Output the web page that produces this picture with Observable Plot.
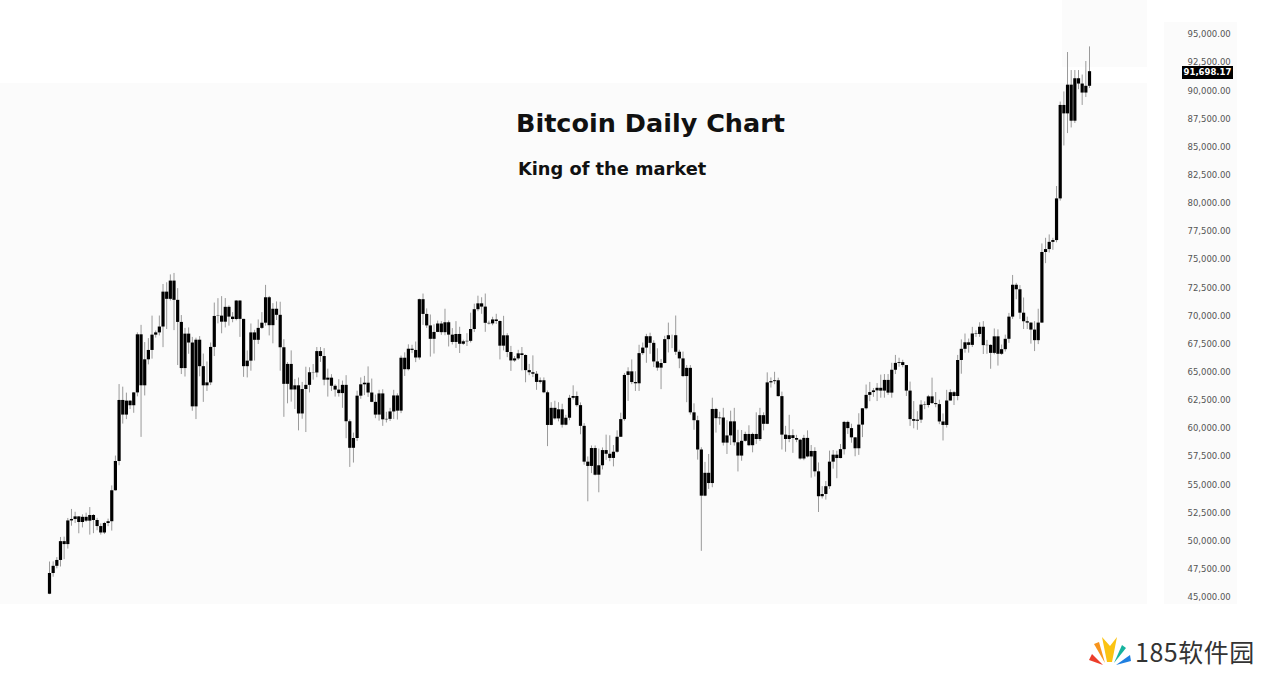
<!DOCTYPE html>
<html>
<head>
<meta charset="utf-8">
<script src="https://cdn.jsdelivr.net/npm/d3@7"></script>
<script src="https://cdn.jsdelivr.net/npm/@observablehq/plot@0.6"></script>
<style>
html, body { margin: 0; padding: 0; background: #fff; overflow: hidden; width: 1271px; height: 677px; }
#wrap { position: relative; width: 1271px; height: 677px; }
.bg { position: absolute; background: #fbfbfb; z-index: 0; }
#chart { position: absolute; left: 0; top: 0; z-index: 1; }
.title { position: absolute; z-index: 2; font-family: "DejaVu Sans", sans-serif; font-weight: bold; color: #111; white-space: nowrap; line-height: 1; }
#tag { position: absolute; z-index: 3; background: #000; color: #fff; font-family: "DejaVu Sans", sans-serif; font-size: 8.5px; font-weight: bold; text-align: center; }
#logo { position: absolute; left: 1089px; top: 635px; z-index: 2; display: flex; align-items: center; }
#logo span { font-family: "Noto Sans CJK SC", sans-serif; font-size: 25px; color: #333; margin-left: 4px; line-height: 1; letter-spacing: 0.5px; }
</style>
</head>
<body>
<div id="wrap">
  <div class="bg" style="left:0;top:83px;width:1147px;height:521px"></div>
  <div class="bg" style="left:1062px;top:0;width:85px;height:67px"></div>
  <div class="bg" style="left:1164px;top:22px;width:73px;height:582px"></div>
  <div id="chart"></div>
  <div class="title" id="t1" style="left:516px;top:111px;font-size:25.5px">Bitcoin Daily Chart</div>
  <div class="title" id="t2" style="left:518px;top:160px;font-size:17.8px">King of the market</div>
  <div id="logo">
    <svg width="42" height="32" viewBox="0 0 42 32">
      <polygon points="14,30 0,25 3,19" fill="#ec3d2a"/>
      <polygon points="16,28 5,9 10,7" fill="#f7941d"/>
      <polygon points="18,27 13,2 21,11 28,2 23,27" fill="#fbc312"/>
      <polygon points="25,28 33,10 37,13" fill="#16b39e"/>
      <polygon points="27,30 41,20 42,26" fill="#1f7fe0"/>
    </svg>
    <span>185软件园</span>
  </div>
</div>
<script>
const startDate = "2024-02-09";

const opens = [
  45290, 47130, 47770, 48290, 49960, 49700, 51800, 51930, 52160, 51660, 52120, 51780, 52280, 51840, 51300, 50730, 51570, 51730, 54480, 57080, 62500,
  61200, 62440, 62030, 63170, 68330, 63800, 66110, 66940, 68300, 68500, 69020, 72120, 71480, 73100, 71390, 69430, 65330, 68390, 67600, 61930, 67850, 65500, 63800, 64060, 67210, 69960, 69990, 69450, 70770, 69900, 69690,
  71330, 69700, 65500, 65990, 68500, 67840, 68900, 69360, 71620, 69140, 70600, 70060, 67180, 63930, 65700, 63430, 63800, 61300, 63470, 63840, 64960, 64940, 66840, 66400, 64300, 64480, 63760, 63420, 63110, 63840,
  60610, 58250, 59120, 62880, 63890, 64030, 63160, 62330, 61200, 63080, 60780, 60820, 61480, 62900, 61550, 66250, 65230, 67050, 66940, 66270, 71450, 70140, 69120, 67930, 68540, 69290, 68520, 69400, 68300, 67650, 68360,
  67490, 67710, 67750, 68800, 70560, 71080, 70790, 69350, 69300, 69650, 69510, 67320, 68240, 66760, 66010, 66190, 66640, 66490, 65150, 64960, 64830, 64100, 64250, 63180, 60280, 61800, 60860, 61670, 60300, 60920,
  62690, 62850, 62040, 60200, 57020, 56640, 58230, 55860, 56700, 58050, 57720, 57350, 57900, 59230, 60800, 64720, 65040, 64090, 63980, 66660, 67150, 68160, 67570, 65920, 65370, 65780, 67900, 68250, 68250, 66780, 66190,
  64620, 65350, 61400, 60700, 58100, 54000, 56030, 55120, 61700, 60880, 60940, 58710, 59350, 60600, 58740, 57560, 58870, 59480, 58480, 59480, 59030, 61150, 60380, 64060, 64170, 64250, 62840, 59420, 59030, 59370, 59120,
  58970, 57300, 59130, 57480, 57970, 56160, 53950, 54150, 54840, 57020, 57640, 57340, 58130, 60550, 60000, 59180, 58210, 60310, 61760, 62950, 63200, 63350, 63580, 63330, 64280, 63150, 65180, 65790, 65860, 65600,
  63330, 60800, 60650, 60750, 62090, 62050, 62820, 62220, 62130, 60590, 60280, 62450, 63190, 62850, 66050, 67040, 67620, 67390, 68400, 68360, 69000, 67370, 67390, 66680, 68150, 66600, 67010, 67930, 69900, 72730, 72330,
  70250, 69490, 69370, 68750, 67810, 69370, 75640, 75900, 76540, 76700, 80400, 88700, 87950, 90500, 87300, 91070, 90600, 89800, 90400
];

const highs = [
  48150, 48170, 48540, 50330, 50360, 52020, 52820, 52570, 52180, 52340, 52490, 52990, 52370, 52030, 51540, 51680, 51960, 54910, 57560, 63910, 63680,
  63150, 62470, 63200, 68500, 69170, 67640, 67990, 69990, 68670, 70000, 72800, 72950, 73650, 73780, 72430, 70040, 68900, 68940, 68100, 68030, 68170, 66620, 65920, 67600, 71150, 71540, 71720, 71550, 70900, 70300, 71370,
  71350, 69700, 66900, 69290, 68730, 69650, 70300, 72720, 71740, 71100, 71250, 71220, 67900, 65860, 66900, 64370, 64490, 64100, 65450, 65400, 65690, 67200, 67200, 67100, 65280, 64790, 63900, 64350, 64220, 64700,
  60780, 59600, 63320, 64500, 64640, 65480, 64400, 62980, 63400, 63450, 61450, 61800, 63400, 63090, 66440, 66730, 67440, 67400, 67690, 71500, 71950, 70630, 70090, 69220, 69550, 69500, 70600, 69560, 68880, 69500, 69000,
  67850, 68430, 70250, 71050, 71760, 71620, 71950, 69550, 69890, 70150, 69560, 69970, 68430, 67300, 66400, 66950, 67200, 66550, 65700, 66460, 65070, 64500, 64500, 63340, 62300, 62430, 62300, 62160, 61180, 62950,
  63800, 63250, 62280, 60440, 57480, 58460, 58460, 58180, 58280, 59420, 59360, 58500, 59800, 61370, 64900, 65400, 66100, 65050, 67400, 67600, 68370, 68470, 67800, 67090, 66140, 68200, 69370, 68300, 70000, 66960, 66800,
  65600, 65600, 62200, 61100, 58300, 57000, 57700, 62700, 61800, 61450, 61800, 60700, 61550, 61800, 59850, 59830, 59680, 60250, 59600, 61400, 61800, 61400, 64950, 64500, 65000, 64480, 63240, 60200, 61180, 59900, 59400,
  59050, 59400, 59800, 58500, 58300, 56950, 54850, 55300, 58000, 58050, 57990, 58590, 60640, 60660, 60390, 59200, 61320, 61780, 63870, 64100, 63560, 64000, 64750, 64800, 64800, 65800, 66500, 66250, 66070, 65600,
  64130, 62400, 61500, 62480, 62370, 62950, 64480, 63200, 62520, 61300, 63400, 63450, 63290, 66500, 67880, 68400, 67950, 68990, 68690, 69400, 69500, 67830, 67450, 68850, 68770, 67420, 68300, 70230, 73600, 72900, 72700,
  71600, 69900, 69400, 69500, 70600, 76400, 76900, 77200, 76900, 81500, 89000, 89900, 93400, 91800, 91800, 91800, 91400, 92600, 93900
];

const lows = [
  45250, 46800, 47550, 47710, 48360, 49300, 51330, 51570, 50660, 51180, 51680, 50540, 50670, 50930, 50540, 50590, 51290, 50900, 54450, 56700, 60400,
  60800, 61700, 61360, 62820, 59220, 62900, 65660, 66170, 68040, 68230, 67190, 68800, 71330, 68700, 65600, 64800, 64580, 66600, 61540, 60800, 64600, 62330, 63300, 63820, 66400, 69300, 68420, 68940, 69100, 69400, 69570,
  68100, 64550, 64500, 65100, 66000, 67470, 68800, 69100, 68230, 67530, 69600, 65100, 61000, 62200, 62350, 61700, 59800, 60830, 59650, 63170, 64300, 64520, 65880, 63800, 62800, 63300, 62800, 62800, 61800, 59100,
  56550, 56940, 58850, 62600, 62930, 62770, 62300, 60880, 60660, 60200, 60500, 60630, 60800, 60760, 61330, 64630, 65120, 66660, 65860, 66080, 69160, 68900, 66350, 66620, 68520, 68280, 68250, 67250, 67430, 67120, 66670,
  67390, 67290, 67600, 68530, 70380, 70150, 68550, 69200, 69130, 69250, 66100, 66900, 66300, 65080, 65880, 66050, 65120, 64070, 64700, 64530, 63400, 63950, 63100, 58400, 60250, 60760, 60600, 60050, 60250, 60700,
  62530, 61900, 59450, 56750, 53500, 56000, 55800, 54300, 56330, 57180, 57060, 56600, 57810, 59210, 60650, 62410, 63900, 63300, 63300, 66500, 65800, 66600, 65420, 65100, 63460, 65760, 66720, 67100, 66500, 65320, 64530,
  62300, 61200, 59850, 57200, 49100, 53950, 54600, 54750, 59600, 60300, 58450, 57700, 58500, 58450, 56150, 57100, 58800, 58400, 57850, 58600, 58850, 59800, 60350, 63600, 63900, 62800, 58100, 57900, 58750, 57800, 58750,
  57200, 57150, 57400, 55600, 55700, 52550, 53750, 53650, 54600, 56400, 55550, 57320, 57650, 59480, 58700, 57500, 57620, 59200, 61650, 62390, 62780, 62400, 62700, 62700, 62950, 62700, 64800, 65450, 65400, 62850,
  60200, 59980, 59850, 60460, 61680, 61830, 62150, 61850, 60350, 58900, 60050, 62450, 62050, 62470, 64830, 66700, 66700, 67200, 68100, 68100, 66580, 66600, 65270, 66550, 65550, 66500, 66800, 67570, 69700, 71450, 69700,
  68800, 68800, 67500, 66840, 67460, 69350, 74650, 75600, 75830, 76500, 80200, 85100, 86200, 86700, 87100, 90100, 88700, 89400, 90200
];

const closes = [
  47130, 47770, 48290, 49960, 49700, 51800, 51930, 52160, 51660, 52120, 51780, 52280, 51840, 51300, 50730, 51570, 51730, 54480, 57080, 62500, 61200,
  62440, 62030, 63170, 68330, 63800, 66110, 66940, 68300, 68500, 69020, 72120, 71480, 73100, 71390, 69430, 65330, 68390, 67600, 61930, 67850, 65500, 63800, 64060, 67210, 69960, 69990, 69450, 70770, 69900, 69690, 71330,
  69700, 65500, 65990, 68500, 67840, 68900, 69360, 71620, 69140, 70600, 70060, 67180, 63930, 65700, 63430, 63800, 61300, 63470, 63840, 64960, 64940, 66840, 66400, 64300, 64480, 63760, 63420, 63110, 63840, 60610,
  58250, 59120, 62880, 63890, 64030, 63160, 62330, 61200, 63080, 60780, 60820, 61480, 62900, 61550, 66250, 65230, 67050, 66940, 66270, 71450, 70140, 69120, 67930, 68540, 69290, 68520, 69400, 68300, 67650, 68360, 67490,
  67710, 67750, 68800, 70560, 71080, 70790, 69350, 69300, 69650, 69510, 67320, 68240, 66760, 66010, 66190, 66640, 66490, 65150, 64960, 64830, 64100, 64250, 63180, 60280, 61800, 60860, 61670, 60300, 60920, 62690,
  62850, 62040, 60200, 57020, 56640, 58230, 55860, 56700, 58050, 57720, 57350, 57900, 59230, 60800, 64720, 65040, 64090, 63980, 66660, 67150, 68160, 67570, 65920, 65370, 65780, 67900, 68250, 68250, 66780, 66190, 64620,
  65350, 61400, 60700, 58100, 54000, 56030, 55120, 61700, 60880, 60940, 58710, 59350, 60600, 58740, 57560, 58870, 59480, 58480, 59480, 59030, 61150, 60380, 64060, 64170, 64250, 62840, 59420, 59030, 59370, 59120, 58970,
  57300, 59130, 57480, 57970, 56160, 53950, 54150, 54840, 57020, 57640, 57340, 58130, 60550, 60000, 59180, 58210, 60310, 61760, 62950, 63200, 63350, 63580, 63330, 64280, 63150, 65180, 65790, 65860, 65600, 63330,
  60800, 60650, 60750, 62090, 62050, 62820, 62220, 62130, 60590, 60280, 62450, 63190, 62850, 66050, 67040, 67620, 67390, 68400, 68360, 69000, 67370, 67390, 66680, 68150, 66600, 67010, 67930, 69900, 72730, 72330, 70250,
  69490, 69370, 68750, 67810, 69370, 75640, 75900, 76540, 76700, 80400, 88700, 87950, 90500, 87300, 91070, 90600, 89800, 90400, 91698
];

const yTicks = [45000, 47500, 50000, 52500, 55000, 57500, 60000, 62500, 65000, 67500, 70000, 72500, 75000, 77500, 80000, 82500, 85000, 87500, 90000, 92500, 95000];
const lastPrice = 91698.17;

const start = new Date(startDate);
const candles = closes.map((c, i) => ({
  date: d3.utcDay.offset(start, i),
  open: opens[i], high: highs[i], low: lows[i], close: c
}));

const chart = Plot.plot({
  width: 1271,
  height: 677,
  marginTop: 34,
  marginBottom: 80,
  marginLeft: 49,
  marginRight: 182,
  style: { background: "transparent", fontFamily: "DejaVu Sans, sans-serif", fontSize: "8.5px", color: "#444" },
  x: { type: "utc", domain: [candles[0].date, candles[candles.length - 1].date], axis: null },
  y: { domain: [45000, 95000], axis: "right", ticks: yTicks, tickFormat: d3.format(",.2f"), tickSize: 0, tickPadding: 98, label: null },
  marks: [
    Plot.ruleX(candles, { x: "date", y1: "low", y2: "high", stroke: "#9a9a9a", strokeWidth: 1 }),
    Plot.ruleX(candles, { x: "date", y1: "open", y2: "close", stroke: "#000", strokeWidth: 3.2 })
  ]
});
chart.querySelectorAll("text").forEach(t => t.setAttribute("fill", "#555"));
document.getElementById("chart").appendChild(chart);

const yPos = chart.scale("y").apply(lastPrice);
const tag = document.createElement("div");
tag.id = "tag";
tag.textContent = d3.format(",.2f")(lastPrice);
tag.style.left = "1182px";
tag.style.width = "51px";
tag.style.height = "13px";
tag.style.lineHeight = "13px";
tag.style.top = (yPos - 5.5) + "px";
document.getElementById("wrap").appendChild(tag);
</script>
</body>
</html>
